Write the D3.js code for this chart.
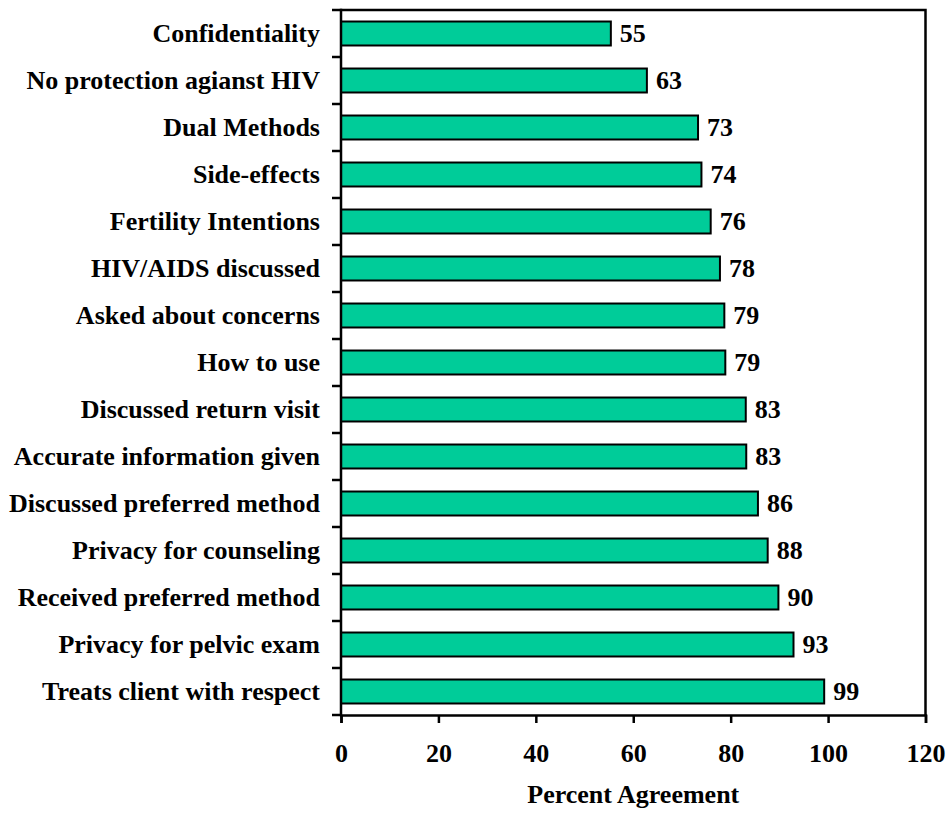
<!DOCTYPE html>
<html>
<head>
<meta charset="utf-8">
<script src="https://cdn.jsdelivr.net/npm/d3@7"></script>
<style>
  html, body { margin: 0; padding: 0; background: #fff; }
  svg { display: block; }
  text { font-family: "Liberation Serif", "Times New Roman", serif; font-weight: bold; fill: #000; }
</style>
</head>
<body>
<svg id="chart" width="950" height="813"></svg>
<script>
const categories = [
  "Confidentiality",
  "No protection agianst HIV",
  "Dual Methods",
  "Side-effects",
  "Fertility Intentions",
  "HIV/AIDS discussed",
  "Asked about concerns",
  "How to use",
  "Discussed return visit",
  "Accurate information given",
  "Discussed preferred method",
  "Privacy for counseling",
  "Received preferred method",
  "Privacy for pelvic exam",
  "Treats client with respect"
];
const values = [55.4, 62.8, 73.3, 74.0, 75.9, 77.8, 78.7, 78.9, 83.1, 83.2, 85.6, 87.6, 89.8, 92.9, 99.2];
const valueLabels = ["55", "63", "73", "74", "76", "78", "79", "79", "83", "83", "86", "88", "90", "93", "99"];
const xTicks = [0, 20, 40, 60, 80, 100, 120];
const xTitle = "Percent Agreement";

(function () {
const svg = d3.select("#chart");
const mLeft = 341, mRight = 925.5, mTop = 10, mBottom = 715;

const x = d3.scaleLinear().domain([0, 120]).range([mLeft, mRight]);
const y = d3.scaleBand().domain(categories).range([mTop, mBottom])
  .paddingInner(0.49).paddingOuter(0.245);

const fontSize = 26;
const baseOff = 8.6;

// frame (top and right)
svg.append("path")
  .attr("d", `M${mLeft},${mTop}H${mRight}V${mBottom}`)
  .attr("fill", "none").attr("stroke", "#000").attr("stroke-width", 2.5);

// bars
svg.append("g").selectAll("rect").data(categories).join("rect")
  .attr("x", x(0))
  .attr("y", d => y(d))
  .attr("width", (d, i) => x(values[i]) - x(0))
  .attr("height", y.bandwidth())
  .attr("fill", "#00CC99")
  .attr("stroke", "#000")
  .attr("stroke-width", 2);

// value labels
svg.append("g").selectAll("text").data(categories).join("text")
  .attr("x", (d, i) => x(values[i]) + 9)
  .attr("y", d => y(d) + y.bandwidth() / 2 + baseOff)
  .attr("font-size", fontSize)
  .text((d, i) => valueLabels[i]);

// left axis line and ticks at band boundaries
const step = y.step();
const yAxis = svg.append("g");
yAxis.append("line").attr("x1", mLeft).attr("x2", mLeft).attr("y1", mTop - 1.25).attr("y2", mBottom + 1.25)
  .attr("stroke", "#000").attr("stroke-width", 2.5);
yAxis.selectAll("line.tick").data(d3.range(categories.length + 1)).join("line")
  .attr("class", "tick")
  .attr("x1", mLeft - 9).attr("x2", mLeft)
  .attr("y1", i => mTop + i * step).attr("y2", i => mTop + i * step)
  .attr("stroke", "#000").attr("stroke-width", 2.5);

// category labels
svg.append("g").selectAll("text").data(categories).join("text")
  .attr("x", 320)
  .attr("y", d => y(d) + y.bandwidth() / 2 + baseOff)
  .attr("text-anchor", "end")
  .attr("font-size", fontSize)
  .text(d => d);

// bottom axis
const xAxis = svg.append("g").attr("transform", `translate(0,${mBottom})`)
  .call(d3.axisBottom(x).tickValues(xTicks).tickSize(8).tickPadding(22).tickFormat(d3.format("d")));
xAxis.select(".domain").attr("stroke", "#000").attr("stroke-width", 2.5);
xAxis.selectAll(".tick line").attr("stroke", "#000").attr("stroke-width", 2.5);
xAxis.selectAll(".tick text")
  .attr("font-size", fontSize)
  .attr("font-family", "Liberation Serif, Times New Roman, serif")
  .attr("font-weight", "bold")
  .attr("dy", null)
  .attr("y", 46.5);

// x title
svg.append("text")
  .attr("x", (mLeft + mRight) / 2)
  .attr("y", 803)
  .attr("text-anchor", "middle")
  .attr("font-size", fontSize)
  .text(xTitle);
})();
</script>
</body>
</html>
